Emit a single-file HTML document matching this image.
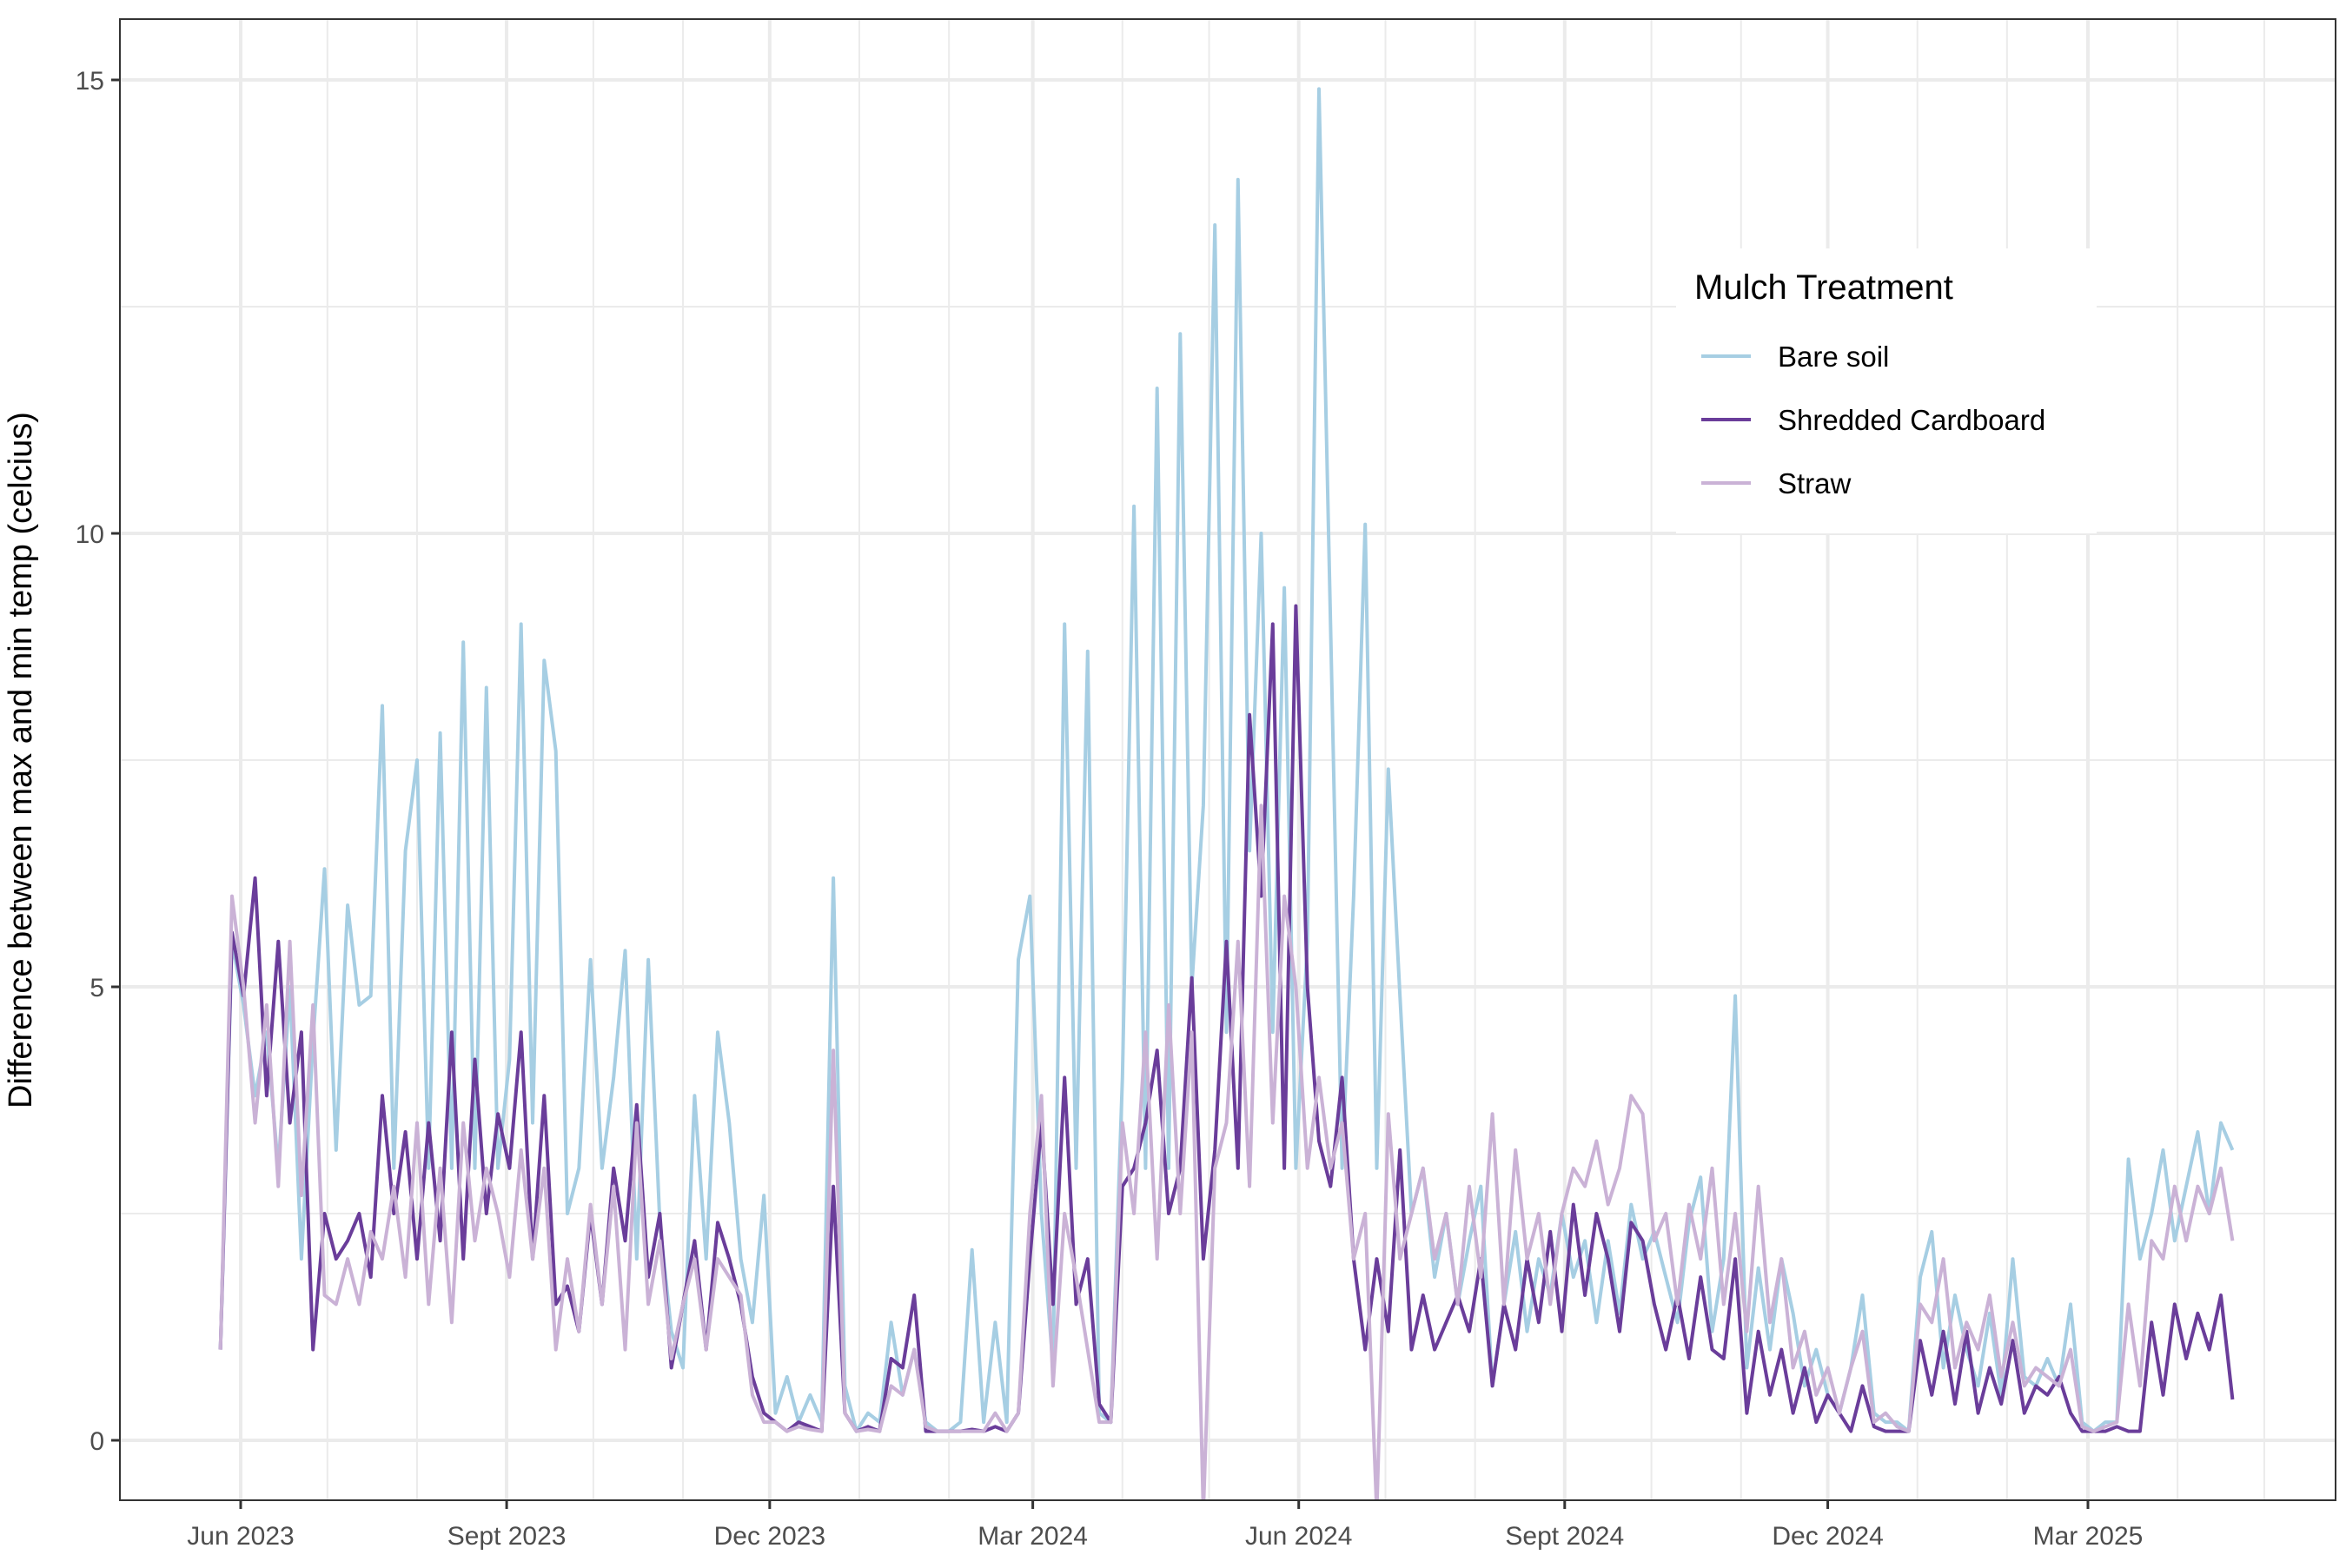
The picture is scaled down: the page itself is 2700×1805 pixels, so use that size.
<!DOCTYPE html>
<html><head><meta charset="utf-8"><style>
body{margin:0;background:#fff;}
svg text{font-family:"Liberation Sans",Arial,sans-serif;}
</style></head><body>
<svg id="chart" width="2700" height="1800" viewBox="0 0 2700 1800" xmlns="http://www.w3.org/2000/svg">
<rect width="2700" height="1800" fill="#fff"/>
<defs><clipPath id="pc"><rect x="138" y="22" width="2550" height="1705"/></clipPath></defs>
<g id="grid"></g>
<g id="series" clip-path="url(#pc)"></g>
<rect x="138" y="22" width="2550" height="1705" fill="none" stroke="#333" stroke-width="2"/>
<g id="axes"></g>
<text transform="translate(36,875) rotate(-90)" text-anchor="middle" font-size="38" fill="#000">Difference between max and min temp (celcius)</text>
<g>
<rect x="1929" y="286" width="484" height="328" fill="#fff"/>
<text x="1950" y="344" font-size="40" fill="#000">Mulch Treatment</text>
<line x1="1958" y1="410" x2="2015" y2="410" stroke="#a6cee3" stroke-width="4"/>
<text x="2046" y="422" font-size="33" fill="#000">Bare soil</text>
<line x1="1958" y1="483" x2="2015" y2="483" stroke="#6a3d9a" stroke-width="4"/>
<text x="2046" y="495" font-size="33" fill="#000">Shredded Cardboard</text>
<line x1="1958" y1="556" x2="2015" y2="556" stroke="#cab2d6" stroke-width="4"/>
<text x="2046" y="568" font-size="33" fill="#000">Straw</text>
</g>
</svg>
<script>
const startDate = "2023-05-25";
const stepDays = 4;
const bareSoil = [1.0,5.5,4.8,3.8,4.5,3.0,5.0,2.0,4.4,6.3,
3.2,5.9,4.8,4.9,8.1,3.0,6.5,7.5,3.0,7.8,
3.0,8.8,3.0,8.3,3.0,4.2,9.0,3.5,8.6,7.6,
2.5,3.0,5.3,3.0,4.0,5.4,2.0,5.3,2.4,1.2,
0.8,3.8,2.0,4.5,3.5,2.0,1.3,2.7,0.3,0.7,
0.2,0.5,0.2,6.2,0.6,0.1,0.3,0.2,1.3,0.5,
1.0,0.2,0.1,0.1,0.2,2.1,0.2,1.3,0.2,5.3,
6.0,2.5,0.8,9.0,3.0,8.7,0.3,0.2,4.0,10.3,
3.0,11.6,3.0,12.2,5.0,7.0,13.4,4.5,13.9,6.5,
10.0,4.5,9.4,3.0,5.5,14.9,9.0,3.0,6.0,10.1,
3.0,7.4,4.9,2.5,3.0,1.8,2.5,1.5,2.2,2.8,
0.6,1.5,2.3,1.2,2.0,1.6,2.5,1.8,2.2,1.3,
2.2,1.4,2.6,2.0,2.3,1.8,1.3,2.4,2.9,1.2,
2.0,4.9,0.8,1.9,1.0,2.0,1.4,0.6,1.0,0.5,
0.3,0.8,1.6,0.3,0.2,0.2,0.1,1.8,2.3,0.8,
1.6,1.0,0.6,1.4,0.5,2.0,0.7,0.6,0.9,0.6,
1.5,0.2,0.1,0.2,0.2,3.1,2.0,2.5,3.2,2.2,
2.8,3.4,2.5,3.5,3.2];
const cardboard = [1.0,5.6,4.9,6.2,3.8,5.5,3.5,4.5,1.0,2.5,
2.0,2.2,2.5,1.8,3.8,2.5,3.4,2.0,3.5,2.2,
4.5,2.0,4.2,2.5,3.6,3.0,4.5,2.0,3.8,1.5,
1.7,1.2,2.5,1.5,3.0,2.2,3.7,1.8,2.5,0.8,
1.5,2.2,1.0,2.4,2.0,1.5,0.7,0.3,0.2,0.1,
0.2,0.15,0.1,2.8,0.3,0.1,0.15,0.1,0.9,0.8,
1.6,0.1,0.1,0.1,0.1,0.12,0.1,0.15,0.1,0.3,
2.0,3.5,1.5,4.0,1.5,2.0,0.4,0.2,2.8,3.0,
3.5,4.3,2.5,3.0,5.1,2.0,3.2,5.5,3.0,8.0,
6.0,9.0,3.0,9.2,5.0,3.3,2.8,4.0,2.0,1.0,
2.0,1.2,3.2,1.0,1.6,1.0,1.3,1.6,1.2,2.0,
0.6,1.5,1.0,2.0,1.3,2.3,1.2,2.6,1.6,2.5,
2.0,1.2,2.4,2.2,1.5,1.0,1.6,0.9,1.8,1.0,
0.9,2.0,0.3,1.2,0.5,1.0,0.3,0.8,0.2,0.5,
0.3,0.1,0.6,0.15,0.1,0.1,0.1,1.1,0.5,1.2,
0.4,1.2,0.3,0.8,0.4,1.1,0.3,0.6,0.5,0.7,
0.3,0.1,0.1,0.1,0.15,0.1,0.1,1.3,0.5,1.5,
0.9,1.4,1.0,1.6,0.45];
const straw = [1.0,6.0,5.0,3.5,4.8,2.8,5.5,2.7,4.8,1.6,
1.5,2.0,1.5,2.3,2.0,2.8,1.8,3.5,1.5,3.0,
1.3,3.5,2.2,3.0,2.5,1.8,3.2,2.0,3.0,1.0,
2.0,1.2,2.6,1.5,2.8,1.0,3.5,1.5,2.2,0.9,
1.5,2.0,1.0,2.0,1.8,1.6,0.5,0.2,0.2,0.1,
0.15,0.12,0.1,4.3,0.3,0.1,0.12,0.1,0.6,0.5,
1.0,0.15,0.1,0.1,0.1,0.1,0.1,0.3,0.1,0.3,
2.5,3.8,0.6,2.5,1.8,1.0,0.2,0.2,3.5,2.5,
4.5,2.0,4.8,2.5,4.5,-0.8,3.0,3.5,5.5,2.8,
7.0,3.5,6.0,5.0,3.0,4.0,3.0,3.5,2.0,2.5,
-0.8,3.6,2.0,2.5,3.0,2.0,2.5,1.5,2.8,1.8,
3.6,1.5,3.2,2.0,2.5,1.5,2.5,3.0,2.8,3.3,
2.6,3.0,3.8,3.6,2.2,2.5,1.5,2.6,2.0,3.0,
1.5,2.5,1.2,2.8,1.3,2.0,0.8,1.2,0.5,0.8,
0.3,0.8,1.2,0.2,0.3,0.15,0.1,1.5,1.3,2.0,
0.8,1.3,1.0,1.6,0.7,1.3,0.6,0.8,0.7,0.6,
1.0,0.15,0.1,0.15,0.2,1.5,0.6,2.2,2.0,2.8,
2.2,2.8,2.5,3.0,2.2];
const xTickDates = ["2023-06-01","2023-09-01","2023-12-01","2024-03-01","2024-06-01","2024-09-01","2024-12-01","2025-03-01"];
const xTickLabels = ["Jun 2023","Sept 2023","Dec 2023","Mar 2024","Jun 2024","Sept 2024","Dec 2024","Mar 2025"];
const xMinorDates = ["2023-07-01","2023-08-01","2023-10-01","2023-11-01","2024-01-01","2024-02-01","2024-04-01","2024-05-01","2024-07-01","2024-08-01","2024-10-01","2024-11-01","2025-01-01","2025-02-01","2025-04-01","2025-05-01"];
const yTicks = [0,5,10,15];
const yMinor = [2.5,7.5,12.5];

const NS="http://www.w3.org/2000/svg";
const DAY=86400000;
const ref=Date.parse("2023-06-01"), ref2=Date.parse("2025-03-01");
const X0=277, X1=2403;
function xScale(t){return X0+(t-ref)/(ref2-ref)*(X1-X0);}
function yScale(v){return 1658-v*104.4;}
function mk(tag,attrs,parent){const e=document.createElementNS(NS,tag);for(const k in attrs)e.setAttribute(k,attrs[k]);parent.appendChild(e);return e;}
const grid=document.getElementById('grid'), axes=document.getElementById('axes'), ser=document.getElementById('series');
yMinor.forEach(v=>{const l=mk('line',{x1:138,x2:2688,y1:yScale(v),y2:yScale(v),stroke:'#ebebeb','stroke-width':2},grid);

});
xMinorDates.forEach(d=>{const x=xScale(Date.parse(d));const l=mk('line',{x1:x,x2:x,y1:22,y2:1727,stroke:'#ebebeb','stroke-width':2},grid);

});
yTicks.forEach(v=>{const y=yScale(v);const l=mk('line',{x1:138,x2:2688,y1:y,y2:y,stroke:'#ebebeb','stroke-width':4},grid);


const t=mk('line',{x1:128,x2:138,y1:y,y2:y,stroke:'#333','stroke-width':3},axes);


const tx=mk('text',{x:120,y:y+11,'text-anchor':'end','font-size':30,fill:'#4d4d4d'},axes);tx.textContent=v;

});
xTickDates.forEach((d,i)=>{const x=xScale(Date.parse(d));const l=mk('line',{x1:x,x2:x,y1:22,y2:1727,stroke:'#ebebeb','stroke-width':4},grid);


const t=mk('line',{x1:x,x2:x,y1:1727,y2:1737,stroke:'#333','stroke-width':3},axes);


const tx=mk('text',{x:x,y:1778,'text-anchor':'middle','font-size':30,fill:'#4d4d4d'},axes);tx.textContent=xTickLabels[i];

});
const s0=Date.parse(startDate);
function draw(vals,color,name){const pts=vals.map((v,i)=>xScale(s0+i*stepDays*DAY).toFixed(1)+','+yScale(v).toFixed(1)).join(' ');
const p=mk('polyline',{points:pts,fill:'none',stroke:color,'stroke-width':4,'stroke-linejoin':'round'},ser);

}
draw(bareSoil,'#a6cee3','line-bare-soil');
draw(cardboard,'#6a3d9a','line-shredded-cardboard');
draw(straw,'#cab2d6','line-straw');
</script>
</body></html>
